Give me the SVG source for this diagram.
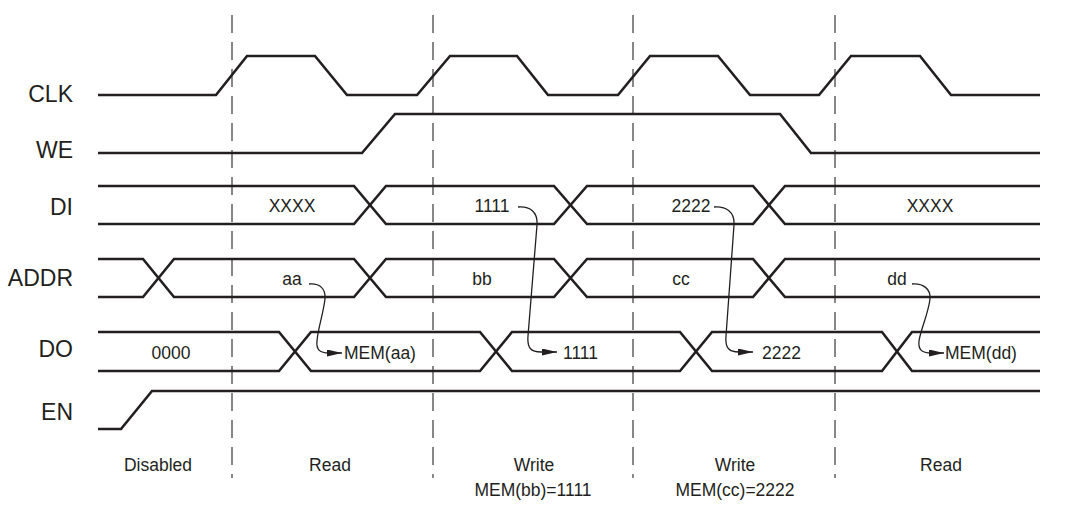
<svg xmlns="http://www.w3.org/2000/svg" width="1065" height="513" viewBox="0 0 1065 513">
<style>
.sig{fill:none;stroke:#231f20;stroke-width:2.6;stroke-linejoin:miter}
.dash{fill:none;stroke:#555;stroke-width:1.4;stroke-dasharray:18 9}
.arr{fill:none;stroke:#231f20;stroke-width:1.3}
.lbl{font-family:"Liberation Sans",Arial,sans-serif;font-size:23px;fill:#231f20;text-anchor:end}
.t{font-family:"Liberation Sans",Arial,sans-serif;font-size:17.5px;fill:#231f20}
.c{text-anchor:middle}
</style>
<defs>
<marker id="ah" viewBox="0 0 15 7" refX="15" refY="3.5" markerWidth="15" markerHeight="7" markerUnits="userSpaceOnUse" orient="auto">
<polygon points="0,0 15,3.5 0,7" fill="#231f20"/>
</marker>
</defs>
<rect width="1065" height="513" fill="#fff"/>
<g id="dividers">
<line class="dash" x1="232" y1="15" x2="232" y2="478"/>
<line class="dash" x1="433" y1="15" x2="433" y2="478"/>
<line class="dash" x1="633" y1="15" x2="633" y2="478"/>
<line class="dash" x1="835" y1="15" x2="835" y2="478"/>
</g>
<g id="CLK">
<text class="lbl" x="73" y="102">CLK</text>
<polyline class="sig" points="98,95 216,95 247,56 315,56 347,95 417,95 450,56 517,56 548,95 618,95 650,56 718,56 750,95 819,95 851,56 920,56 951,95 1040,95"/>
</g>
<g id="WE">
<text class="lbl" x="73" y="158">WE</text>
<polyline class="sig" points="98,153 362,153 395,114 780,114 811,153 1040,153"/>
</g>
<g id="DI">
<text class="lbl" x="73" y="215">DI</text>
<polyline class="sig" points="98,186 354,186 386,224 554,224 587,186 753,186 785,224 1040,224"/>
<polyline class="sig" points="98,224 354,224 386,186 554,186 587,224 753,224 785,186 1040,186"/>
<text class="t c" x="292" y="212">XXXX</text>
<text class="t c" x="492" y="212">1111</text>
<text class="t c" x="691" y="212">2222</text>
<text class="t c" x="930" y="212">XXXX</text>
</g>
<g id="ADDR">
<text class="lbl" x="73" y="286">ADDR</text>
<polyline class="sig" points="98,259 143,259 174,297 354,297 386,259 554,259 587,297 753,297 785,259 1040,259"/>
<polyline class="sig" points="98,297 143,297 174,259 354,259 386,297 554,297 587,259 753,259 785,297 1040,297"/>
<text class="t c" x="292" y="285">aa</text>
<text class="t c" x="482" y="285">bb</text>
<text class="t c" x="681" y="285">cc</text>
<text class="t c" x="897" y="285">dd</text>
</g>
<g id="DO">
<text class="lbl" x="73" y="357">DO</text>
<polyline class="sig" points="98,332 279,332 311,371 480,371 512,332 680,332 712,371 882,371 912,332 1040,332"/>
<polyline class="sig" points="98,371 279,371 311,332 480,332 512,371 680,371 712,332 882,332 912,371 1040,371"/>
<text class="t c" x="171" y="359">0000</text>
<text class="t" x="344" y="359">MEM(aa)</text>
<text class="t" x="563" y="359">1111</text>
<text class="t" x="762" y="359">2222</text>
<text class="t" x="945" y="359">MEM(dd)</text>
</g>
<g id="EN">
<text class="lbl" x="73" y="420">EN</text>
<polyline class="sig" points="98,429 121,429 152,391 1040,391"/>
</g>
<g id="connectors">
<path class="arr" marker-end="url(#ah)" d="M309,284 C320,283 326,289 325,299 C323,315 318,328 317,341 C316,350 320,353 329,353 L342,353"/>
<path class="arr" marker-end="url(#ah)" d="M518,207 C530,206 538,212 537,225 L528,336 C527,348 531,352 541,352 L557,352"/>
<path class="arr" marker-end="url(#ah)" d="M714,207 C726,206 735,212 734,225 L726,336 C725,348 729,352 739,352 L753,352"/>
<path class="arr" marker-end="url(#ah)" d="M912,284 C923,283 931,289 930,299 C928,315 921,328 919,341 C918,350 922,353 931,353 L944,353"/>
</g>
<g id="phases">
<text class="t c" x="158" y="471">Disabled</text>
<text class="t c" x="330" y="471">Read</text>
<text class="t c" x="534" y="471">Write</text>
<text class="t c" x="533" y="496">MEM(bb)=1111</text>
<text class="t c" x="735" y="471">Write</text>
<text class="t c" x="735" y="496">MEM(cc)=2222</text>
<text class="t c" x="941" y="471">Read</text>
</g>
</svg>
